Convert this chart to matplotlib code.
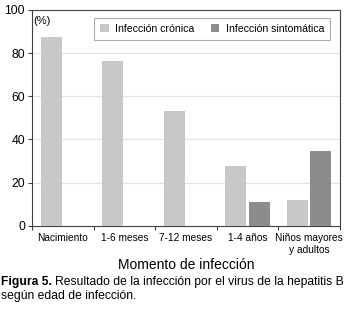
import numpy as np
import matplotlib
matplotlib.use('Agg')
import matplotlib.pyplot as plt

plt.rcParams['font.family'] = ['Liberation Sans', 'DejaVu Sans']

# datos
categorias = ['Nacimiento', '1-6 meses', '7-12 meses', '1-4 años', 'Niños mayores\ny adultos']
cronica = [87.5, 76.5, 53, 27.7, 11.9]
sintomatica = [0, 0, 0, 11.1, 34.7]

c_cron = '#c7c8ca'
c_sint = '#8b8c8e'
c_eje = '#404040'

fig = plt.figure(figsize=(3.5, 3.12), dpi=100)
ax = fig.add_axes([0.0914, 0.2766, 0.8796, 0.6914])

x = np.arange(len(categorias))
ancho = 0.34
ax.bar(x - 0.19, cronica, ancho, color=c_cron, label='Infección crónica', zorder=3)
ax.bar(x + 0.19, sintomatica, ancho, color=c_sint, label='Infección sintomática', zorder=3)

ax.set_xlim(-0.5, len(categorias) - 0.5)
ax.set_ylim(0, 100)
ax.set_yticks([0, 20, 40, 60, 80, 100])
ax.tick_params(axis='y', labelsize=8.7, length=3, color=c_eje, pad=2)
for v in [20, 40, 60, 80]:
    ax.axhline(v, color='#e3e3e3', lw=0.9, zorder=1)

# marcas en los límites de categoría, etiquetas en el centro
ax.set_xticks(np.arange(len(categorias) + 1) - 0.5)
ax.set_xticklabels([])
ax.tick_params(axis='x', which='major', length=3, color=c_eje)
ax.set_xticks(x, minor=True)
ax.set_xticklabels(categorias, minor=True, fontsize=7.3, linespacing=1.25)
ax.tick_params(axis='x', which='minor', length=0, pad=5.5)

for s in ax.spines.values():
    s.set_color(c_eje)
    s.set_linewidth(0.8)

ax.set_xlabel('Momento de infección', fontsize=10, labelpad=2)
ax.text(0.005, 0.97, '(%)', transform=ax.transAxes, fontsize=8, va='top', ha='left')

leg = ax.legend(loc='upper right', ncol=2, fontsize=7.6, frameon=True, fancybox=False,
                edgecolor='#999999', handlelength=0.8, handleheight=0.8, handletextpad=0.6,
                columnspacing=1.6, borderpad=0.55, borderaxespad=0,
                bbox_to_anchor=(0.968, 0.962))
leg.get_frame().set_linewidth(0.8)

t1 = fig.text(0.002, 0.097, 'Figura 5.', fontsize=8.7, fontweight='bold', va='center', ha='left')
fig.canvas.draw()
bb = t1.get_window_extent().transformed(fig.transFigure.inverted())
fig.text(bb.x1 + 0.01, 0.097, 'Resultado de la infección por el virus de la hepatitis B',
         fontsize=8.7, va='center', ha='left')
fig.text(0.002, 0.05, 'según edad de infección.', fontsize=8.7, va='center', ha='left')

fig.savefig('out.png', dpi=100)
